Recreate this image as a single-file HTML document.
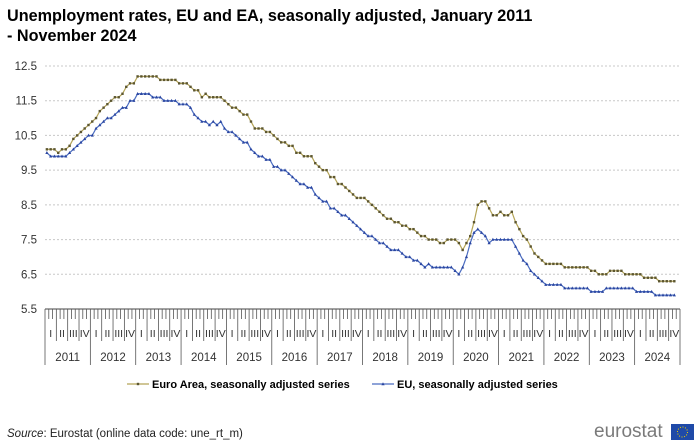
<!DOCTYPE html>
<html><head><meta charset="utf-8">
<style>
body{margin:0;background:#fff;font-family:"Liberation Sans",Arial,sans-serif;}
#wrap{position:relative;width:700px;height:446px;overflow:hidden;}
#title{position:absolute;left:7px;top:6px;font-size:16.2px;font-weight:bold;color:#000;line-height:20px;margin:0;}
#source{position:absolute;left:7px;top:428px;font-size:11.5px;color:#222;}
#logo{position:absolute;left:594px;top:421px;font-size:19px;color:#7a7a7a;font-weight:normal;letter-spacing:0px;}
#flag{position:absolute;left:671px;top:424px;width:23px;height:16px;background:#1f4aa8;}
</style></head>
<body>
<div id="wrap">
<h1 id="title">Unemployment rates, EU and EA, seasonally adjusted, January 2011<br>- November 2024</h1>
<svg id="chart" width="700" height="446" style="position:absolute;left:0;top:0"></svg>
<div id="source"><i>Source</i>: Eurostat (online data code: une_rt_m)</div>
<div id="logo">eurostat</div>
<div id="flag"><svg width="23" height="16"><circle cx="11.5" cy="8" r="5" fill="none" stroke="#f2d400" stroke-width="1" stroke-dasharray="1 1.6"/></svg></div>
</div>
<script>
const years=["2011","2012","2013","2014","2015","2016","2017","2018","2019","2020","2021","2022","2023","2024"];
const quarterLabels=["I","II","III","IV"];
const yTicks=[5.5,6.5,7.5,8.5,9.5,10.5,11.5,12.5];
const euroArea=[
10.1,10.1,10.1,10.0,10.1,10.1,10.2,10.4,10.5,10.6,10.7,10.8,
10.9,11.0,11.2,11.3,11.4,11.5,11.6,11.6,11.7,11.9,12.0,12.0,
12.2,12.2,12.2,12.2,12.2,12.2,12.1,12.1,12.1,12.1,12.1,12.0,
12.0,12.0,11.9,11.8,11.8,11.6,11.7,11.6,11.6,11.6,11.6,11.5,
11.4,11.3,11.3,11.2,11.1,11.1,10.9,10.7,10.7,10.7,10.6,10.6,
10.5,10.4,10.3,10.3,10.2,10.2,10.0,10.0,9.9,9.9,9.9,9.7,
9.6,9.5,9.5,9.3,9.3,9.1,9.1,9.0,8.9,8.8,8.7,8.7,
8.7,8.6,8.5,8.4,8.3,8.2,8.1,8.1,8.0,8.0,7.9,7.9,
7.8,7.8,7.7,7.6,7.6,7.5,7.5,7.5,7.4,7.4,7.5,7.5,
7.5,7.4,7.2,7.4,7.6,8.0,8.5,8.6,8.6,8.4,8.2,8.2,
8.3,8.2,8.2,8.3,8.0,7.8,7.6,7.5,7.3,7.1,7.0,6.9,
6.8,6.8,6.8,6.8,6.8,6.7,6.7,6.7,6.7,6.7,6.7,6.7,
6.6,6.6,6.5,6.5,6.5,6.6,6.6,6.6,6.6,6.5,6.5,6.5,
6.5,6.5,6.4,6.4,6.4,6.4,6.3,6.3,6.3,6.3,6.3];
const euSeries=[
10.0,9.9,9.9,9.9,9.9,9.9,10.0,10.1,10.2,10.3,10.4,10.5,
10.5,10.7,10.8,10.9,11.0,11.0,11.1,11.2,11.3,11.3,11.5,11.5,
11.7,11.7,11.7,11.7,11.6,11.6,11.6,11.5,11.5,11.5,11.5,11.4,
11.4,11.4,11.3,11.1,11.0,10.9,10.9,10.8,10.9,10.8,10.9,10.7,
10.6,10.6,10.5,10.4,10.3,10.3,10.1,10.0,9.9,9.9,9.8,9.8,
9.6,9.6,9.5,9.5,9.4,9.3,9.2,9.1,9.1,9.0,9.0,8.8,
8.7,8.6,8.6,8.4,8.4,8.3,8.2,8.2,8.1,8.0,7.9,7.8,
7.7,7.6,7.6,7.5,7.4,7.4,7.3,7.2,7.2,7.2,7.1,7.0,
7.0,6.9,6.9,6.8,6.7,6.8,6.7,6.7,6.7,6.7,6.7,6.7,
6.6,6.5,6.7,7.0,7.4,7.7,7.8,7.7,7.6,7.4,7.5,7.5,
7.5,7.5,7.5,7.5,7.3,7.1,6.9,6.8,6.6,6.5,6.4,6.3,
6.2,6.2,6.2,6.2,6.2,6.1,6.1,6.1,6.1,6.1,6.1,6.1,
6.0,6.0,6.0,6.0,6.1,6.1,6.1,6.1,6.1,6.1,6.1,6.1,
6.0,6.0,6.0,6.0,6.0,5.9,5.9,5.9,5.9,5.9,5.9];

const NS="http://www.w3.org/2000/svg";
const svg=document.getElementById('chart');
const X0=45,X1=680,YTOP=66,YBOT=309,VMIN=5.5,VMAX=12.5;
const monthW=(X1-X0)/(years.length*12);
const xM=i=>X0+(i+0.5)*monthW;
const yV=v=>YBOT-(v-VMIN)/(VMAX-VMIN)*(YBOT-YTOP);
function mk(tag,at){const e=document.createElementNS(NS,tag);for(const k in at)e.setAttribute(k,at[k]);svg.appendChild(e);return e;}

yTicks.forEach(t=>{
  if(t>VMIN){const g=mk('line',{x1:X0,x2:X1,y1:yV(t),y2:yV(t),stroke:'#c8c8c8','stroke-dasharray':'2 2','stroke-width':1});
  
  }
  const l=mk('text',{x:37,y:yV(t)+4,'text-anchor':'end','font-size':11.5,fill:'#333'});
  l.textContent=t.toFixed(1);
  
  
});
const ax=mk('line',{x1:X0,x2:X1,y1:YBOT,y2:YBOT,stroke:'#444','stroke-width':1});



const total=years.length*12;
for(let i=0;i<=total;i++){
  const x=X0+i*monthW;
  let y2=YBOT+10;
  if(i%12===0)y2=YBOT+56;else if(i%3===0)y2=YBOT+32;
  const t=mk('line',{x1:x,x2:x,y1:YBOT,y2:y2,stroke:'#555','stroke-width':0.8});
  
  
}
years.forEach((yr,k)=>{
  quarterLabels.forEach((q,j)=>{
    const t=mk('text',{x:X0+(k*12+j*3+1.5)*monthW,y:YBOT+28,'text-anchor':'middle','font-size':10.5,fill:'#333'});
    t.textContent=q;
    
    
  });
  const t=mk('text',{x:X0+(k*12+6)*monthW,y:YBOT+52,'text-anchor':'middle','font-size':11.5,fill:'#333'});
  t.textContent=yr;
  
  
});

function series(data,color,mcolor,shape,name){
  const p=mk('polyline',{points:data.map((v,i)=>xM(i)+','+yV(v)).join(' '),fill:'none',stroke:color,'stroke-width':1.2});
  
  
  data.forEach((v,i)=>{
    const x=xM(i),y=yV(v);let m;
    if(shape==='sq')m=mk('rect',{x:x-1.2,y:y-1.2,width:2.4,height:2.4,fill:mcolor});
    else m=mk('polygon',{points:`${x},${y-1.8} ${x-1.6},${y+1.2} ${x+1.6},${y+1.2}`,fill:mcolor});
    
    
  });
}
series(euroArea,'#b5a557','#5c5630','sq','euro-area');
series(euSeries,'#4a6cc0','#2a45a0','tri','eu');

function legend(x,label,color,mcolor,shape,name){
  const l=mk('line',{x1:x,x2:x+22,y1:384,y2:384,stroke:color,'stroke-width':1.2});
  
  
  const c=x+11;
  const m=shape==='sq'?mk('rect',{x:c-1.2,y:382.8,width:2.4,height:2.4,fill:mcolor}):mk('polygon',{points:`${c},382.2 ${c-1.6},385.2 ${c+1.6},385.2`,fill:mcolor});
  
  
  const t=mk('text',{x:x+25,y:388,'font-size':11,'font-weight':'bold',fill:'#000'});
  t.textContent=label;
  
  
}
legend(127,'Euro Area, seasonally adjusted series','#b5a557','#5c5630','sq','euro-area');
legend(372,'EU, seasonally adjusted series','#4a6cc0','#2a45a0','tri','eu');
</script>
</body></html>
